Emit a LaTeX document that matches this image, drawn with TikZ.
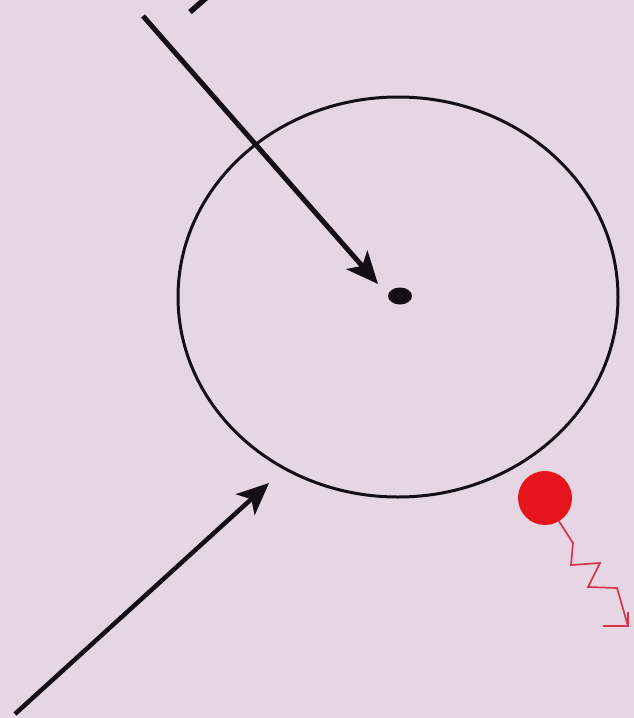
\documentclass[tikz,border=0pt]{standalone}
\usetikzlibrary{arrows.meta,shapes.geometric}
\definecolor{bgpink}{RGB}{230,214,228}
\definecolor{ink}{RGB}{22,14,22}
\definecolor{reddot}{RGB}{230,20,28}
\definecolor{redline}{RGB}{214,52,74}
\tikzset{
  blackarrow/.style={draw=ink, line width=5pt, -{Stealth[length=32pt,width=28pt,inset=8pt]}},
  ringstyle/.style={ellipse, draw=ink, line width=3pt, inner sep=0pt},
  redline/.style={draw=redline, line width=1.7pt, line join=miter},
}
\begin{document}
\begin{tikzpicture}[x=1pt,y=1pt]
\useasboundingbox (0,0) rectangle (634,-718);
\fill[bgpink] (0,0) rectangle (634,-718);
% ring and centre dot
\node[ringstyle, minimum width=440pt, minimum height=400pt] (ring) at (398,-297) {};
\node[ellipse, fill=ink, minimum width=24pt, minimum height=17pt, inner sep=0pt] (dot) at (400,-296) {};
% top stroke
\coordinate (ts1) at (190,-12);
\coordinate (ts2) at (206,2);
\draw[draw=ink, line width=5.5pt] (ts1) -- (ts2);
% arrow to centre
\coordinate (a1s) at (143,-16);
\coordinate (a1t) at (378,-284);
\draw[blackarrow] (a1s) -- (a1t);
% lower arrow
\coordinate (a2s) at (15,-714);
\coordinate (a2t) at (269,-483);
\draw[blackarrow, line width=4.5pt] (a2s) -- (a2t);
% red dot and zigzag
\node[circle, fill=reddot, minimum size=54pt, inner sep=0pt] (rdot) at (545,-498) {};
\coordinate (zt) at (628,-626);
\draw[redline] (rdot.-59) -- (573,-543) -- (571,-565) -- (600,-563) -- (588,-587) -- (617,-588) -- (zt);
\draw[redline] (603,-626) -- (zt) -- (628,-612);
\end{tikzpicture}
\end{document}
